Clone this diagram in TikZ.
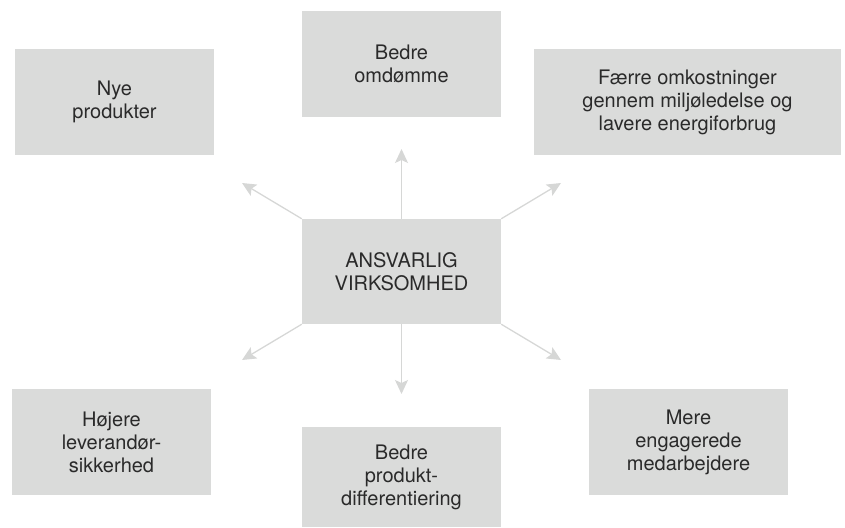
\documentclass[tikz,border=0pt]{standalone}
\usepackage{fontspec}
\setmainfont{TeX Gyre Heros}
\usetikzlibrary{arrows.meta}
\definecolor{boxgray}{HTML}{DADBDA}
\definecolor{arrowgray}{HTML}{D6D7D6}
\definecolor{txt}{HTML}{2A2A2A}
\tikzset{
  box/.style={rectangle, fill=boxgray, draw=none, inner sep=0pt, minimum width=199pt, minimum height=106pt, align=center, text=txt, font=\fontsize{20}{23}\selectfont},
  conn/.style={draw=arrowgray, line width=1.3pt, -{Stealth[length=14pt,width=13pt,inset=3pt]}}
}
\begin{document}
\begin{tikzpicture}[x=1pt,y=-1pt]
\useasboundingbox (0,0) rectangle (845,527);
\node[box] (nye) at (114.5,102) {Nye\\produkter};
\node[box] (omd) at (401.5,64) {Bedre\\omdømme};
\node[box, minimum width=307pt] (faerre) at (687.5,102) {Færre omkostninger\\gennem miljøledelse og\\lavere energiforbrug};
\node[box, minimum height=105pt] (c) at (401.5,271.5) {ANSVARLIG\\VIRKSOMHED};
\node[box] (hoj) at (111.5,442) {Højere\\leverandør-\\sikkerhed};
\node[box, minimum height=100pt] (prod) at (401.5,477) {Bedre\\produkt-\\differentiering};
\node[box] (mere) at (688.5,442) {Mere\\engagerede\\medarbejdere};
\coordinate (tul) at (242,183);
\coordinate (tu) at (401.5,149);
\coordinate (tur) at (561,183);
\coordinate (tdl) at (242,360);
\coordinate (td) at (401.5,394);
\coordinate (tdr) at (561,360);
\draw[conn] (c.north west) -- (tul);
\draw[conn] (c.north) -- (tu);
\draw[conn] (c.north east) -- (tur);
\draw[conn] (c.south west) -- (tdl);
\draw[conn] (c.south) -- (td);
\draw[conn] (c.south east) -- (tdr);
\end{tikzpicture}
\end{document}
